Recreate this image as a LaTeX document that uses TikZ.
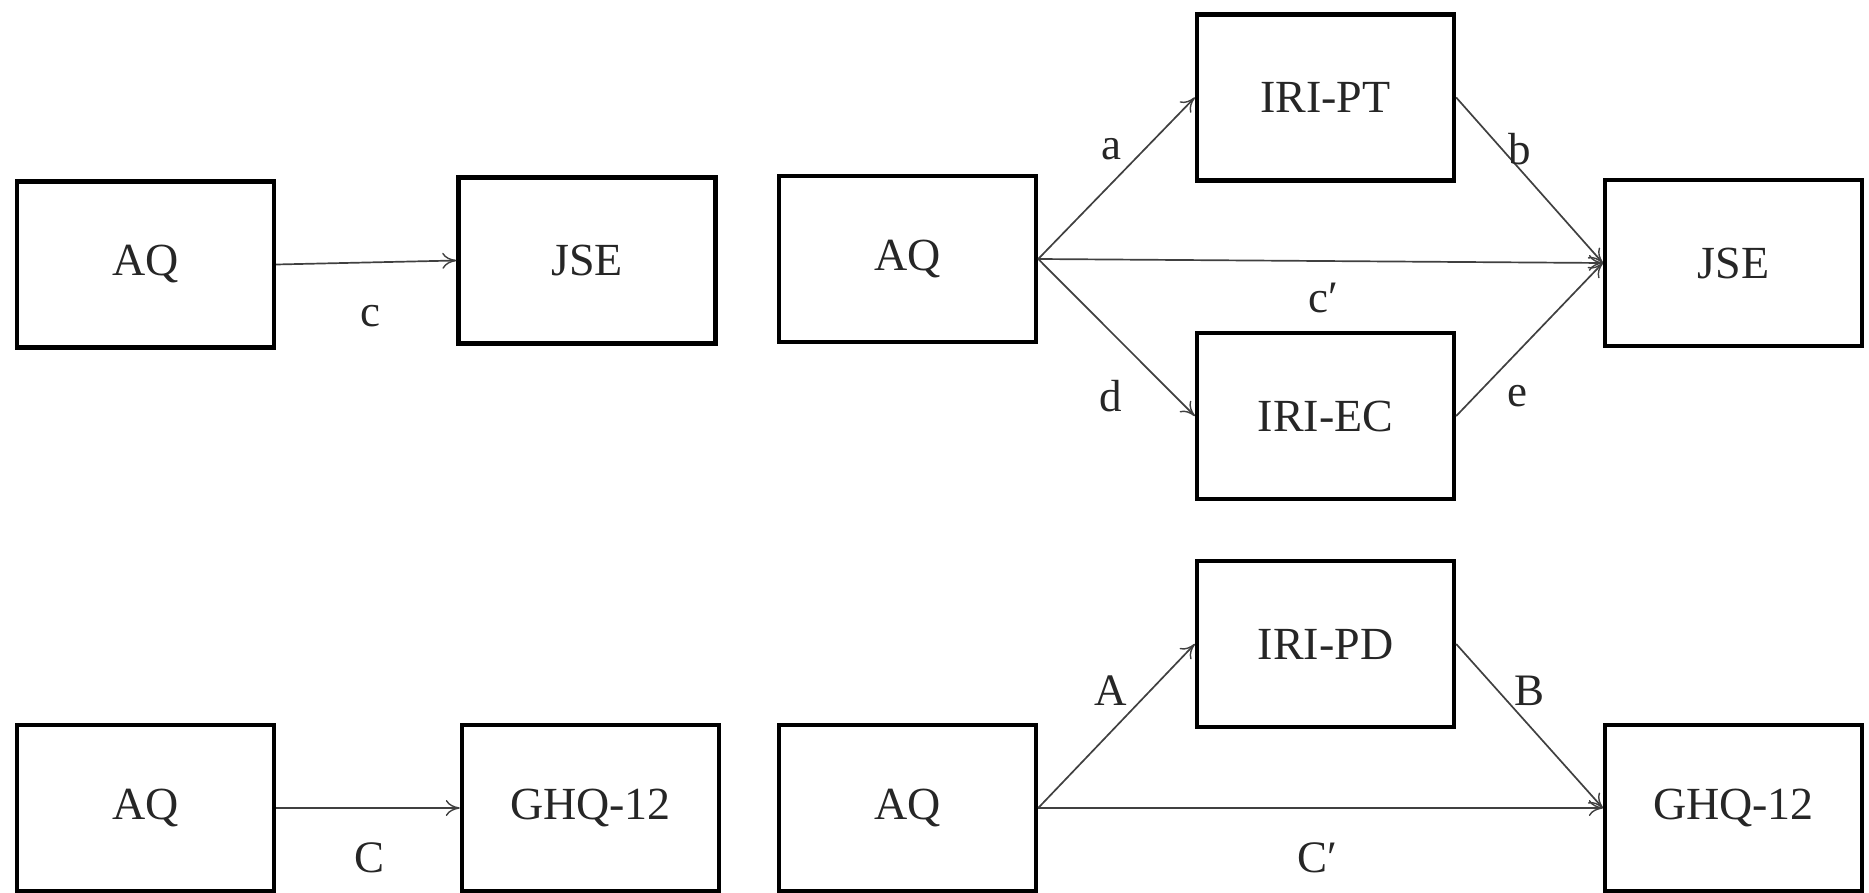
\documentclass[tikz,border=0pt]{standalone}
\usepackage{fontspec}
\setmainfont{Liberation Serif}
\usetikzlibrary{arrows.meta}
\begin{document}
\begin{tikzpicture}[x=1pt,y=-1pt,
  box/.style={draw=black,line width=4.4pt,minimum width=257pt,minimum height=166pt,inner sep=0pt,font=\fontsize{46}{52}\selectfont,text=black!85},
  conn/.style={draw=black!75,line width=1.7pt,-{To[length=14pt,width=16pt,line width=1.4pt]}},
  lab/.style={font=\fontsize{45}{50}\selectfont,text=black!85,inner sep=0pt}]
\useasboundingbox (0,0) rectangle (1869,893);
% top left
\node[box] (aq1) at (145.5,264.5) {AQ};
\node[box] (jse1) at (587,260.5) {JSE};
\draw[conn] (aq1.east) -- (jse1.west);
\node[lab] (lc) at (370,316) {c};
% top right
\node[box] (aq2) at (907.5,259) {AQ};
\node[box] (pt) at (1325.5,97.5) {IRI-PT};
\node[box] (ec) at (1325.5,416) {IRI-EC};
\node[box] (jse2) at (1733.5,263) {JSE};
\draw[conn] (aq2.east) -- (pt.west);
\draw[conn] (pt.east) -- (jse2.west);
\draw[conn] (aq2.east) -- (jse2.west);
\draw[conn] (aq2.east) -- (ec.west);
\draw[conn] (ec.east) -- (jse2.west);
\node[lab] (la) at (1111,149) {a};
\node[lab] (lb) at (1520,149) {b};
\node[lab] (lcp) at (1323,298) {c′};
\node[lab] (ld) at (1111,396) {d};
\node[lab] (le) at (1517,396) {e};
% bottom left
\node[box] (aq3) at (145.5,808) {AQ};
\node[box] (ghq1) at (590.5,808) {GHQ-12};
\draw[conn] (aq3.east) -- (ghq1.west);
\node[lab] (lC) at (370,858) {C};
% bottom right
\node[box] (aq4) at (907.5,808) {AQ};
\node[box] (pd) at (1325.5,644) {IRI-PD};
\node[box] (ghq2) at (1733.5,808) {GHQ-12};
\draw[conn] (aq4.east) -- (pd.west);
\draw[conn] (pd.east) -- (ghq2.west);
\draw[conn] (aq4.east) -- (ghq2.west);
\node[lab] (lA) at (1111,691) {A};
\node[lab] (lB) at (1529,691) {B};
\node[lab] (lCp) at (1317,858) {C′};
\end{tikzpicture}
\end{document}
